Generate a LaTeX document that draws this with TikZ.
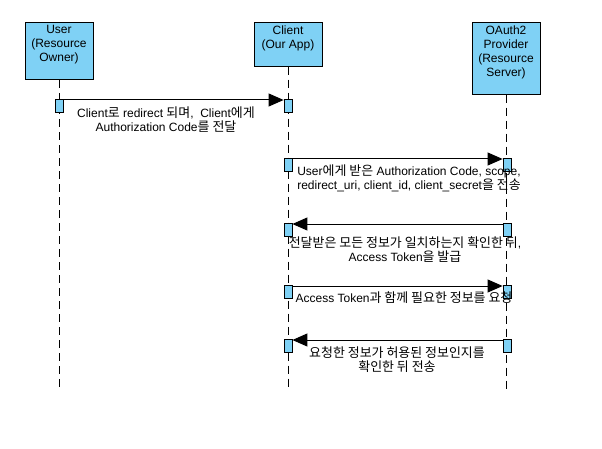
\documentclass[tikz,border=0pt]{standalone}
\usepackage{fontspec}
\setmainfont{Liberation Sans}
\newfontfamily\kr[Scale=1.08]{Noto Sans CJK KR}
\usepackage{tikz}
\usetikzlibrary{arrows.meta,positioning}
\definecolor{actorblue}{RGB}{127,209,245}
\newcommand{\ko}[1]{{\kr #1}}

\begin{document}
\begin{tikzpicture}[x=1pt, y=-1pt,
    actor/.style={draw, fill=actorblue, line width=1pt, minimum width=68pt,
                  align=center, anchor=north, inner sep=3pt, text depth=15pt,
                  font=\fontsize{12}{14}\selectfont},
    act/.style={draw, fill=actorblue, line width=0.8pt, minimum width=8pt,
                minimum height=13pt, inner sep=0pt, anchor=north},
    lifeline/.style={line width=1pt, dash pattern=on 8pt off 5pt},
    msg/.style={line width=1pt, -{Triangle[length=15pt,width=13pt]}},
    lbl/.style={align=center, inner sep=0pt, font=\fontsize{12}{14}\selectfont}]
    \useasboundingbox (0,0) rectangle (602,449);
    % actors
    \node[actor] (usr) at (59,22) {User\\(Resource\\Owner)};
    \node[actor] (cli) at (288,22) {Client\\(Our App)};
    \node[actor] (prov) at (506,22) {OAuth2\\Provider\\(Resource\\Server)};
    % lifelines
    \draw[lifeline] (usr.south) -- (usr.south |- 0,390);
    \draw[lifeline] (cli.south) -- (cli.south |- 0,390);
    \draw[lifeline] (prov.south) -- (prov.south |- 0,390);
    % activations
    \node[act] (u1) at (59,99) {};
    \node[act] (c1) at (288,99) {};
    \node[act] (c2) at (288,158) {};
    \node[act] (p2) at (507,158) {};
    \node[act] (c3) at (288,223) {};
    \node[act] (p3) at (507,223) {};
    \node[act] (c4) at (288,285) {};
    \node[act] (p4) at (507,285) {};
    \node[act] (c5) at (288,339) {};
    \node[act] (p5) at (507,339) {};
    % messages
    \draw[msg] ([yshift=-1pt]u1.north east) -- ([yshift=-1pt]c1.north west);
    \draw[msg] ([yshift=-1pt]c2.north east) -- ([yshift=-1pt]p2.north west);
    \draw[msg] ([yshift=-1pt]p3.north west) -- ([yshift=-1pt]c3.north east);
    \draw[msg] ([yshift=-1pt]c4.north east) -- ([yshift=-1pt]p4.north west);
    \draw[msg] ([yshift=-1pt]p5.north west) -- ([yshift=-1pt]c5.north east);
    % labels
    \node[lbl] (m1) at (166,120) {Client\ko{로} redirect \ko{되며},~~Client\ko{에게}\\Authorization Code\ko{를 전달}};
    \node[lbl] (m2) at (409,178.5) {User\ko{에게 받은} Authorization Code, scope,\\redirect\_uri, client\_id, client\_secret\ko{을 전송}};
    \node[lbl] (m3) at (405,250) {\ko{전달받은 모든 정보가 일치하는지 확인한 뒤},\\Access Token\ko{을 발급}};
    \node[lbl] (m4) at (404,298) {Access Token\ko{과 함께 필요한 정보를 요청}};
    \node[lbl] (m5) at (397,360) {\ko{요청한 정보가 허용된 정보인지를}\\\ko{확인한 뒤 전송}};
\end{tikzpicture}
\end{document}
